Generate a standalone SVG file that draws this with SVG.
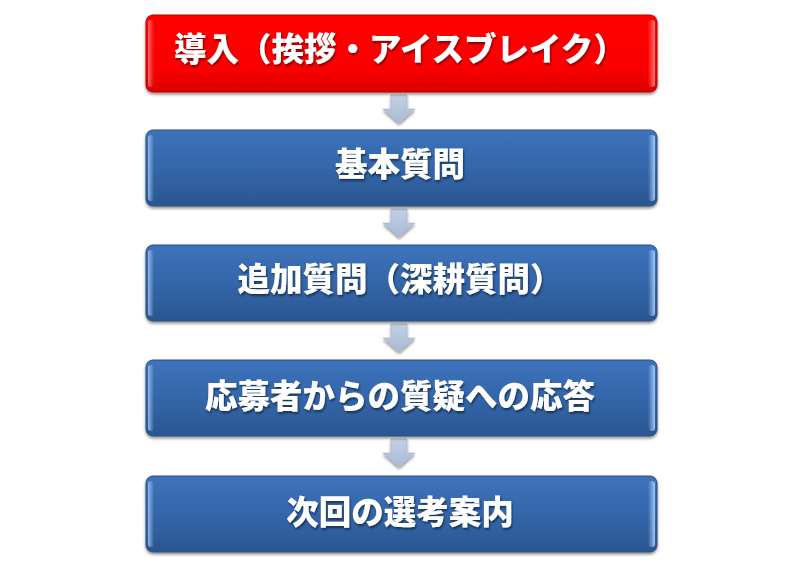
<svg xmlns="http://www.w3.org/2000/svg" width="800" height="584" viewBox="0 0 800 584">
<defs>
<linearGradient id="gBlue" x1="0" y1="0" x2="0" y2="1">
<stop offset="0" stop-color="#3D73BB"/>
<stop offset="0.5" stop-color="#3466AA"/>
<stop offset="1" stop-color="#2A5690"/>
</linearGradient>
<linearGradient id="gRed" x1="0" y1="0" x2="0" y2="1">
<stop offset="0" stop-color="#FF0000"/>
<stop offset="0.7" stop-color="#FA0000"/>
<stop offset="1" stop-color="#D80000"/>
</linearGradient>
<linearGradient id="gEdgeB" x1="0" y1="0" x2="1" y2="0">
<stop offset="0" stop-color="#9DC0EE" stop-opacity="0.9"/>
<stop offset="1" stop-color="#9DC0EE" stop-opacity="0"/>
</linearGradient>
<linearGradient id="gEdgeBR" x1="1" y1="0" x2="0" y2="0">
<stop offset="0" stop-color="#A9CBF5" stop-opacity="0.95"/>
<stop offset="1" stop-color="#A9CBF5" stop-opacity="0"/>
</linearGradient>
<linearGradient id="gEdgeR" x1="0" y1="0" x2="1" y2="0">
<stop offset="0" stop-color="#FF8080" stop-opacity="0.8"/>
<stop offset="1" stop-color="#FF8080" stop-opacity="0"/>
</linearGradient>
<linearGradient id="gEdgeRR" x1="1" y1="0" x2="0" y2="0">
<stop offset="0" stop-color="#FF9090" stop-opacity="0.85"/>
<stop offset="1" stop-color="#FF9090" stop-opacity="0"/>
</linearGradient>
<linearGradient id="gArrow" x1="0" y1="0" x2="0" y2="1">
<stop offset="0" stop-color="#C3D0E4"/>
<stop offset="1" stop-color="#A9BAD6"/>
</linearGradient>
<filter id="shadow" x="-5%" y="-10%" width="110%" height="130%">
<feGaussianBlur in="SourceAlpha" stdDeviation="1.5"/>
<feOffset dx="0" dy="2" result="b"/>
<feComponentTransfer><feFuncA type="linear" slope="0.45"/></feComponentTransfer>
<feMerge><feMergeNode/><feMergeNode in="SourceGraphic"/></feMerge>
</filter>
<filter id="tshadow" x="-5%" y="-20%" width="110%" height="140%">
<feGaussianBlur in="SourceAlpha" stdDeviation="1"/>
<feOffset dx="1" dy="1.5" result="b"/>
<feComponentTransfer><feFuncA type="linear" slope="0.5"/></feComponentTransfer>
<feMerge><feMergeNode/><feMergeNode in="SourceGraphic"/></feMerge>
</filter>
</defs>
<style>
.lbl{font-family:"Noto Sans CJK JP","Noto Sans CJK SC",sans-serif;font-weight:900;font-size:32.5px;fill:#FFFFFF;text-anchor:middle;filter:url(#tshadow);}
.boxB{fill:url(#gBlue);stroke:#2A4F82;stroke-width:1;}
.boxR{fill:url(#gRed);stroke:#C00000;stroke-width:1;}
.arr{fill:url(#gArrow);stroke:#A5B4CC;stroke-width:0.6;}
</style>
<rect width="800" height="584" fill="#FFFFFF"/>

<g id="connectors" filter="url(#shadow)">
<path class="arr" d="M391,95 H407 V109 H415 L399,123 L383,109 H391 Z"/>
<path class="arr" d="M391,209 H407 V223 H415 L399,237 L383,223 H391 Z"/>
<path class="arr" d="M391,324 H407 V338 H415 L399,352 L383,338 H391 Z"/>
<path class="arr" d="M391,439 H407 V453 H415 L399,467 L383,453 H391 Z"/>
</g>

<g id="node1" filter="url(#shadow)">
<rect class="boxR" x="146" y="15" width="511" height="77" rx="7"/>
<rect x="148" y="20" width="6" height="67" rx="3" fill="url(#gEdgeR)"/>
<rect x="648" y="20" width="7" height="67" rx="3" fill="url(#gEdgeRR)"/>
<text class="lbl" x="400" y="61">導入（挨拶・アイスブレイク）</text>
</g>

<g id="node2" filter="url(#shadow)">
<rect class="boxB" x="146" y="130" width="511" height="76" rx="7"/>
<rect x="148" y="135" width="6" height="66" rx="3" fill="url(#gEdgeB)"/>
<rect x="648" y="135" width="7" height="66" rx="3" fill="url(#gEdgeBR)"/>
<text class="lbl" x="400" y="176">基本質問</text>
</g>

<g id="node3" filter="url(#shadow)">
<rect class="boxB" x="146" y="245" width="511" height="76" rx="7"/>
<rect x="148" y="250" width="6" height="66" rx="3" fill="url(#gEdgeB)"/>
<rect x="648" y="250" width="7" height="66" rx="3" fill="url(#gEdgeBR)"/>
<text class="lbl" x="400" y="291">追加質問（深耕質問）</text>
</g>

<g id="node4" filter="url(#shadow)">
<rect class="boxB" x="146" y="360" width="511" height="76" rx="7"/>
<rect x="148" y="365" width="6" height="66" rx="3" fill="url(#gEdgeB)"/>
<rect x="648" y="365" width="7" height="66" rx="3" fill="url(#gEdgeBR)"/>
<text class="lbl" x="400" y="408">応募者からの質疑への応答</text>
</g>

<g id="node5" filter="url(#shadow)">
<rect class="boxB" x="146" y="476" width="511" height="76" rx="7"/>
<rect x="148" y="481" width="6" height="66" rx="3" fill="url(#gEdgeB)"/>
<rect x="648" y="481" width="7" height="66" rx="3" fill="url(#gEdgeBR)"/>
<text class="lbl" x="400" y="524">次回の選考案内</text>
</g>
</svg>
